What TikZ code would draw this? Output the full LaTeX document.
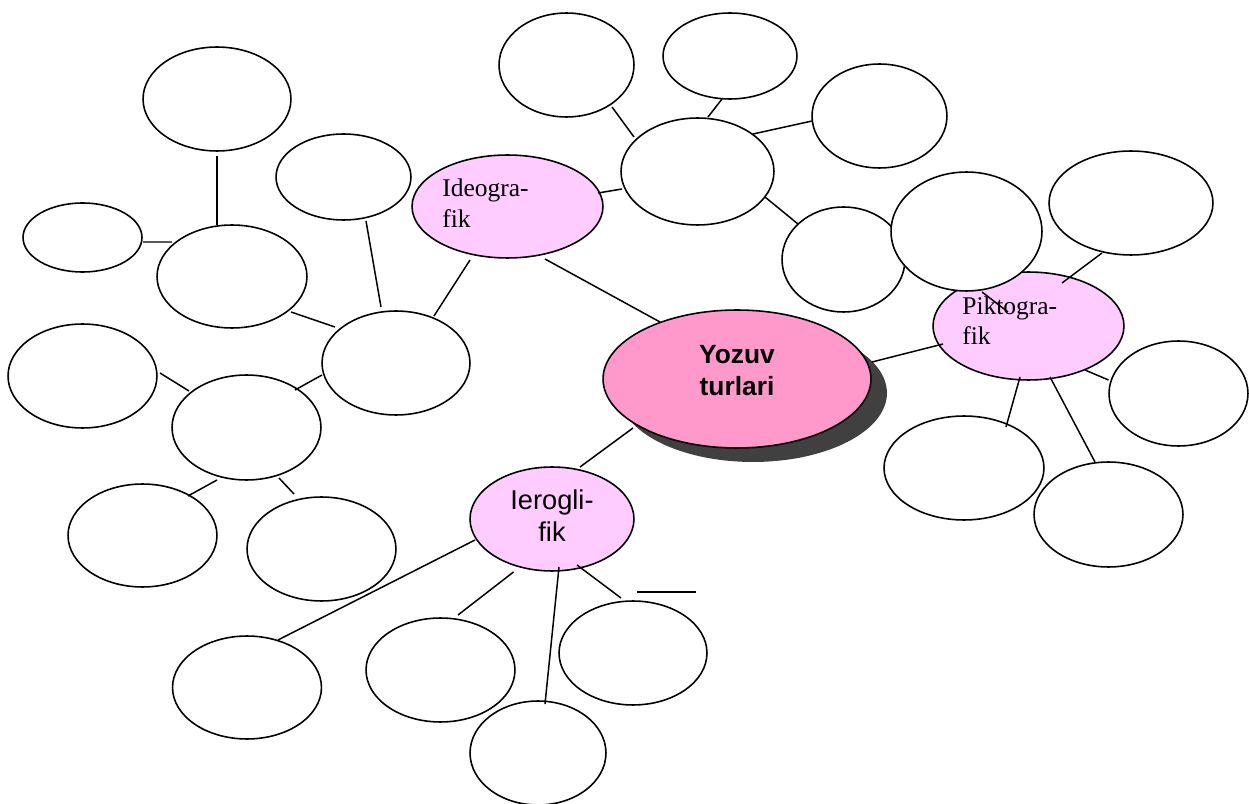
\documentclass[tikz,border=0pt]{standalone}
\usepackage{fontspec}
\setmainfont{Liberation Serif}
\newfontfamily\sansf{Liberation Sans}
\usetikzlibrary{shapes.geometric,calc}
\definecolor{cenpink}{HTML}{FF99CC}
\definecolor{lightpink}{HTML}{FFCCFF}
\definecolor{shadowgray}{HTML}{404040}
\tikzset{
  bub/.style 2 args={ellipse, draw=black, line width=0.9pt, fill=white,
    minimum width=#1*0.04cm, minimum height=#2*0.04cm, inner sep=0pt, outer sep=0pt},
  pinkbub/.style={fill=lightpink},
  conn/.style={draw=black, line width=0.85pt},
  serlbl/.style={anchor=base west, inner sep=0pt, font=\fontsize{14.5}{17}\selectfont},
  sanslbl/.style={anchor=base, inner sep=0pt, font=\sansf\fontsize{15.5}{18}\selectfont},
  boldlbl/.style={anchor=base, inner sep=0pt, font=\sansf\bfseries\fontsize{15}{18}\selectfont}
}
\begin{document}
\begin{tikzpicture}[x=0.02cm, y=-0.02cm]
\useasboundingbox (0,0) rectangle (1249,804);

% central node with shadow
\node[ellipse, fill=shadowgray, minimum width=134*0.04cm, minimum height=69*0.04cm, inner sep=0pt] (censhadow) at (753,393) {};
\node[bub={134}{69}, fill=cenpink] (cen) at (737,379) {};

% category nodes
\node[bub={95.5}{51.5}, pinkbub] (ideo) at (507.5,206.5) {};
\node[bub={95.5}{54}, pinkbub] (pik) at (1028.5,326) {};
\node[bub={82}{52}, pinkbub] (ier) at (552,519) {};

% top cluster
\node[bub={76.5}{53.5}] (h1) at (697.5,171.5) {};
\node[bub={67.5}{52}] (a1) at (566.5,65) {};
\node[bub={67}{43}] (a2) at (730,56) {};
\node[bub={67.5}{52}] (a3) at (879.5,116) {};
\node[bub={61.5}{52.5}] (a4) at (843.5,259.5) {};

% right cluster
\node[bub={75.5}{59.5}] (p1) at (966.5,231.5) {};
\node[bub={82}{52}] (p2) at (1131,203) {};
\node[bub={69.5}{52.5}] (p3) at (1178.5,393.5) {};
\node[bub={80}{52}] (p4) at (964,468) {};
\node[bub={74.5}{52.5}] (p5) at (1108.5,514.5) {};

% left cluster
\node[bub={74}{52}] (l1) at (396,363) {};
\node[bub={67.5}{43}] (l2) at (343.5,177) {};
\node[bub={75}{51.5}] (l3) at (232,276.5) {};
\node[bub={74}{52}] (l4) at (217,99) {};
\node[bub={59.5}{34.5}] (l5) at (82.5,237.5) {};
\node[bub={74.5}{52.5}] (l6) at (246.5,427.5) {};
\node[bub={74.5}{52}] (l7) at (82.5,376) {};
\node[bub={74.5}{51.5}] (l8) at (142.5,535.5) {};
\node[bub={74.5}{52}] (l9) at (321.5,549) {};

% bottom cluster
\node[bub={74.5}{51.5}] (i1) at (247,687.5) {};
\node[bub={74.5}{52}] (i2) at (440.5,670) {};
\node[bub={68}{52}] (i3) at (538,753) {};
\node[bub={74}{52}] (i4) at (633,653) {};

% labels
\node[boldlbl] (centxt1) at (737,364) {Yozuv};
\node[boldlbl] (centxt2) at (737,396) {turlari};
\node[serlbl] (ideotxt1) at (442,197) {Ideogra-};
\node[serlbl] (ideotxt2) at (442,228) {fik};
\node[serlbl] (piktxt1) at (962,315) {Piktogra-};
\node[serlbl] (piktxt2) at (962,345) {fik};
\node[sanslbl] (iertxt1) at (552,510) {Ierogli-};
\node[sanslbl] (iertxt2) at (552,541) {fik};

% connectors
\draw[conn] ($(ideo)+(90.5,-13.5)$) -- ($(h1)+(-75.5,17.5)$);
\draw[conn] ($(h1)+(-63.5,-34.5)$) -- ($(a1)+(45.5,42)$);
\draw[conn] ($(h1)+(10.5,-54.5)$) -- ($(a2)+(-8,43)$);
\draw[conn] ($(h1)+(55.5,-37.5)$) -- ($(a3)+(-67.5,5)$);
\draw[conn] ($(h1)+(67.5,25.5)$) -- ($(a4)+(-45.5,-35.5)$);
\draw[conn] ($(cen)+(-77,-57)$) -- ($(ideo)+(37.5,52.5)$);
\draw[conn] ($(cen)+(-104,49)$) -- ($(ier)+(28,-52)$);
\draw[conn] ($(cen)+(135,-17)$) -- ($(pik)+(-85.5,18)$);
\draw[conn] ($(p1)+(15.5,60.5)$) -- ($(pik)+(-20.5,-14)$);
\draw[conn] ($(p2)+(-29,50)$) -- ($(pik)+(33.5,-43)$);
\draw[conn] ($(pik)+(56.5,44)$) -- ($(p3)+(-70,-13.5)$);
\draw[conn] ($(pik)+(-8.5,51)$) -- ($(p4)+(42,-41)$);
\draw[conn] ($(pik)+(21.5,51)$) -- ($(p5)+(-13.5,-52.5)$);
\draw[conn] ($(ideo)+(-37.5,53.5)$) -- ($(l1)+(38,-47)$);
\draw[conn] ($(l2)+(22.5,44)$) -- ($(l1)+(-15,-56)$);
\draw[conn] ($(l3)+(59,35.5)$) -- ($(l1)+(-61,-36)$);
\draw[conn] ($(l4)+(0,57)$) -- ($(l3)+(-15,-51.5)$);
\draw[conn] ($(l5)+(60.5,4.5)$) -- ($(l3)+(-60,-34.5)$);
\draw[conn] ($(l1)+(-74,12)$) -- ($(l6)+(48.5,-37.5)$);
\draw[conn] ($(l7)+(77.5,-3)$) -- ($(l6)+(-57.5,-36.5)$);
\draw[conn] ($(l6)+(-29.5,52.5)$) -- ($(l8)+(45.5,-39.5)$);
\draw[conn] ($(l6)+(32.5,50.5)$) -- ($(l9)+(-27.5,-55)$);
\draw[conn] ($(ier)+(-77,21)$) -- ($(i1)+(31,-47.5)$);
\draw[conn] ($(ier)+(-38.5,53)$) -- ($(i2)+(17.5,-55)$);
\draw[conn] ($(ier)+(7,48)$) -- ($(i3)+(7,-49)$);
\draw[conn] ($(ier)+(25,46)$) -- ($(i4)+(-12,-55)$);
\coordinate (s1) at (637,592);
\coordinate (s2) at (696,592);
\draw[conn] (s1) -- (s2);
\end{tikzpicture}
\end{document}
